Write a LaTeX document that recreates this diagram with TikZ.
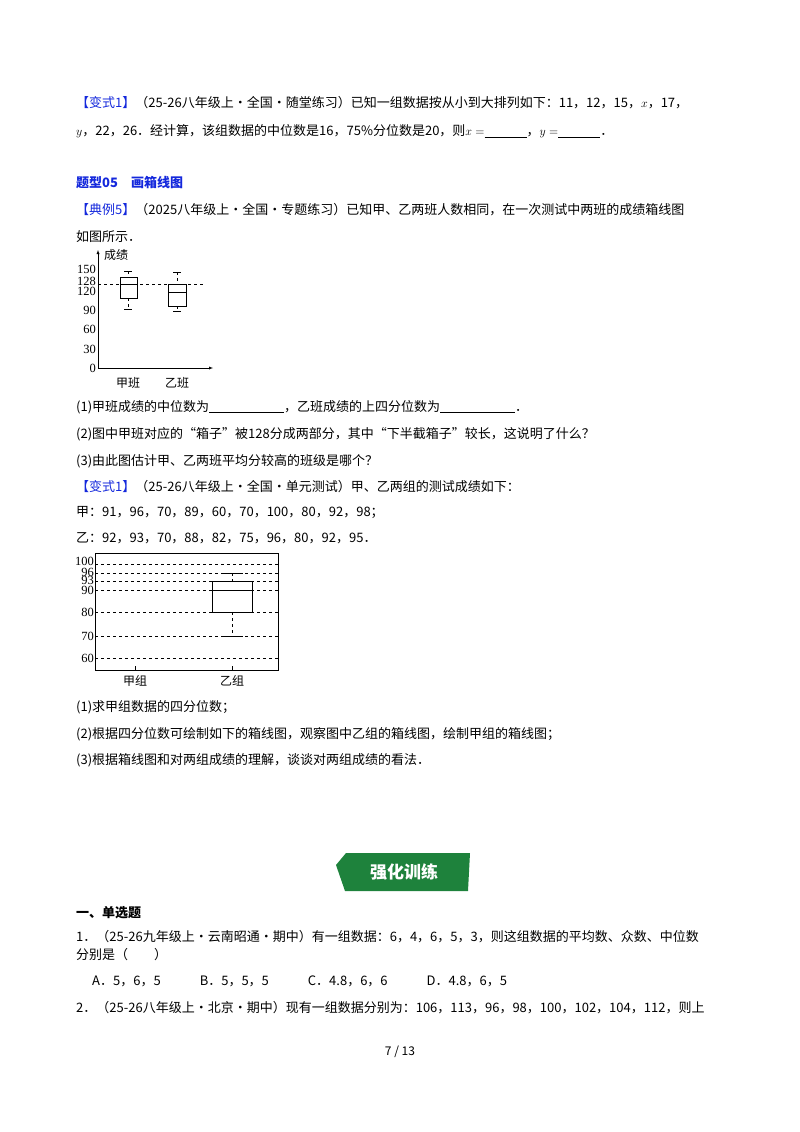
\documentclass[tikz,border=0pt]{standalone}
\usepackage{fontspec}
\setmainfont{Noto Sans CJK SC}
\newfontfamily\numfont{Liberation Serif}
\definecolor{qblue}{RGB}{20,40,220}
\definecolor{bgreen}{RGB}{30,130,60}
\begin{document}
\begin{tikzpicture}[x=1pt,y=-1pt,
  txt/.style={anchor=west,inner sep=0pt,font=\fontsize{13}{15}\selectfont},
  tk/.style={anchor=east,inner sep=1pt,font=\numfont\fontsize{12.5}{12}\selectfont},
  bx/.style={draw,thick,fill=white},
  dl/.style={dashed,thin}]
\useasboundingbox (0,0) rectangle (800,1132);
\node[txt] (l1) at (76,103) {\textcolor{qblue}{【变式1】}（25-26八年级上·全国·随堂练习）已知一组数据按从小到大排列如下：11，12，15，$x$，17，};
\node[txt] (l2) at (76,131) {$y$，22，26．经计算，该组数据的中位数是16，75\%分位数是20，则$x=$\underline{\hspace{42pt}}，$y=$\underline{\hspace{42pt}}．};
\node[txt] (h1) at (76,183) {\textcolor{qblue}{\bfseries 题型05\quad 画箱线图}};
\node[txt] (l3) at (76,210) {\textcolor{qblue}{【典例5】}（2025八年级上·全国·专题练习）已知甲、乙两班人数相同，在一次测试中两班的成绩箱线图};
\node[txt] (l4) at (76,237) {如图所示．};
% chart 1
\coordinate (o) at (98,368);
\coordinate (xe) at (213,368);
\coordinate (ye) at (98,250);
\draw[-latex] (o) -- (xe);
\draw[-latex] (o) -- (ye);
\node[anchor=west,inner sep=1pt,font=\fontsize{12}{12}\selectfont] (cj) at (103,255) {成绩};
\foreach \v/\yy in {150/269,128/281,120/291,90/310,60/329,30/349,0/368}{
  \node[tk] at (97,\yy) {\v};}
\draw[dl] (98,284.5) -- (205,284.5);
\draw[dashed] (128,271) -- (128,277); \draw (124,271)--(132,271);
\draw[dashed] (128,298) -- (128,309); \draw (124,309.5)--(132,309.5);
\draw[bx] (120,277) rectangle (137,298); \draw[thick] (120,284.5)--(137,284.5);
\draw[dashed] (177,272) -- (177,284); \draw (173,272)--(181,272);
\draw[dashed] (177,306) -- (177,311); \draw (173,311)--(181,311);
\draw[bx] (168,284.5) rectangle (186,306); \draw[thick] (168,292)--(186,292);
\node[inner sep=0pt,font=\fontsize{12}{12}\selectfont] (ja) at (128,383) {甲班};
\node[inner sep=0pt,font=\fontsize{12}{12}\selectfont] (ya) at (177,383) {乙班};
\node[txt] (q1) at (76,407) {(1)甲班成绩的中位数为\underline{\hspace{75pt}}，乙班成绩的上四分位数为\underline{\hspace{75pt}}．};
\node[txt] (q2) at (76,434) {(2)图中甲班对应的“箱子”被128分成两部分，其中“下半截箱子”较长，这说明了什么？};
\node[txt] (q3) at (76,461) {(3)由此图估计甲、乙两班平均分较高的班级是哪个？};
\node[txt] (l5) at (76,487) {\textcolor{qblue}{【变式1】}（25-26八年级上·全国·单元测试）甲、乙两组的测试成绩如下：};
\node[txt] (l6) at (76,512) {甲：91，96，70，89，60，70，100，80，92，98；};
\node[txt] (l7) at (76,538) {乙：92，93，70，88，82，75，96，80，92，95．};
% chart 2
\draw (95,553) rectangle (278,670);
\foreach \v/\yy in {100/561,96/572,93/580,90/590,80/612,70/636,60/658}{
  \node[tk] at (95,\yy) {\v};}
\foreach \yy in {564,573,581,590,612,636,658}{\draw[dl] (95,\yy) -- (278,\yy);}
\draw[dashed] (232,573) -- (232,581); \draw[thick] (221,573)--(243,573);
\draw[dashed] (232,612) -- (232,636); \draw[thick] (221,636)--(243,636);
\draw[bx] (212,581) rectangle (252,612); \draw (212,590)--(252,590);
\draw (135,666)--(135,670); \draw (232,666)--(232,670);
\node[inner sep=0pt,font=\fontsize{12}{12}\selectfont] (jz) at (135,681) {甲组};
\node[inner sep=0pt,font=\fontsize{12}{12}\selectfont] (yz) at (232,681) {乙组};
\node[txt] (r1) at (76,707) {(1)求甲组数据的四分位数；};
\node[txt] (r2) at (76,734) {(2)根据四分位数可绘制如下的箱线图，观察图中乙组的箱线图，绘制甲组的箱线图；};
\node[txt] (r3) at (76,760) {(3)根据箱线图和对两组成绩的理解，谈谈对两组成绩的看法．};
% banner
\fill[bgreen] (346,853) -- (470,853) -- (468,891) -- (345,891) -- (336,865) -- cycle;
\node[text=white,font=\fontsize{17}{17}\selectfont\bfseries] (bn) at (404,872) {强化训练};
\node[txt] (s1) at (76,913) {\bfseries 一、单选题};
\node[txt] (s2) at (76,937) {1．（25-26九年级上·云南昭通·期中）有一组数据：6，4，6，5，3，则这组数据的平均数、众数、中位数};
\node[txt] (s3) at (76,955) {分别是（\qquad）};
\node[txt] (s4) at (92,981) {\textit{A}．5，6，5\qquad\quad \textit{B}．5，5，5\qquad\quad \textit{C}．4.8，6，6\qquad\quad \textit{D}．4.8，6，5};
\node[txt] (s5) at (76,1008) {2．（25-26八年级上·北京·期中）现有一组数据分别为：106，113，96，98，100，102，104，112，则上};
\node[inner sep=0pt,font=\fontsize{12}{12}\selectfont] (pg) at (400,1052) {7 / 13};
\end{tikzpicture}
\end{document}
